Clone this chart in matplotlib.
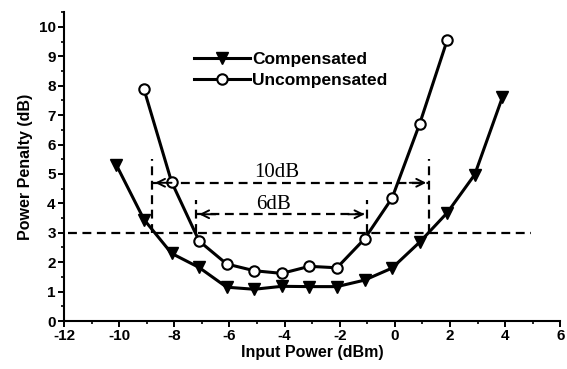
import matplotlib
matplotlib.use("Agg")
import matplotlib.pyplot as plt
from matplotlib.ticker import MultipleLocator

# Data
comp_x = [-10.1, -9.1, -8.1, -7.1, -6.1, -5.1, -4.1, -3.1, -2.1, -1.1, -0.1, 0.9, 1.9, 2.9, 3.9]
comp_y = [5.3, 3.45, 2.3, 1.82, 1.15, 1.08, 1.18, 1.17, 1.17, 1.39, 1.8, 2.68, 3.68, 4.98, 7.6]
unc_x = [-9.1, -8.1, -7.1, -6.1, -5.1, -4.1, -3.1, -2.1, -1.1, -0.1, 0.9, 1.9]
unc_y = [7.88, 4.73, 2.72, 1.94, 1.71, 1.62, 1.86, 1.81, 2.79, 4.18, 6.7, 9.55]

threshold = 3.0
range10 = (-8.8, 1.24)
range6 = (-7.2, -1.0)

plt.rcParams['font.family'] = ['Liberation Sans', 'DejaVu Sans']
plt.rcParams['axes.unicode_minus'] = False
fig = plt.figure(figsize=(5.67, 3.69), dpi=100)
ax = fig.add_axes([0.113, 0.130, 0.875, 0.837])

ax.plot(comp_x, comp_y, '-', color='black', lw=2.2, marker='v', ms=8.5,
        mfc='black', mec='black', label='Compensated', zorder=3)
ax.plot(unc_x, unc_y, '-', color='black', lw=2.2, marker='o', ms=7.5,
        mfc='white', mec='black', mew=1.5, label='Uncompensated', zorder=3)

dash = (0, (4, 2.5))
ax.plot([-11.85, 4.95], [threshold, threshold], color='black', lw=1.6, linestyle=dash, zorder=2)

# 10 dB window
for xv in range10:
    ax.plot([xv, xv], [threshold, 5.5], color='black', lw=1.6, linestyle=dash, zorder=2)
y10 = 4.7
ax.plot([range10[0], range10[1]], [y10, y10], color='black', lw=1.6, linestyle=dash, zorder=2)
ax.annotate('', xy=(range10[0], y10), xytext=(range10[0] + 0.8, y10),
            arrowprops=dict(arrowstyle='->', lw=1.4, color='black', mutation_scale=14))
ax.annotate('', xy=(range10[1], y10), xytext=(range10[1] - 0.8, y10),
            arrowprops=dict(arrowstyle='->', lw=1.4, color='black', mutation_scale=14))
ax.text(-4.3, y10 + 0.02, '10dB', family='Liberation Serif', fontsize=15,
        ha='center', va='bottom')

# 6 dB window
for xv in range6:
    ax.plot([xv, xv], [threshold, 4.1], color='black', lw=1.6, linestyle=dash, zorder=2)
y6 = 3.63
ax.plot([range6[0], range6[1]], [y6, y6], color='black', lw=1.6, linestyle=dash, zorder=2)
ax.annotate('', xy=(range6[0], y6), xytext=(range6[0] + 0.8, y6),
            arrowprops=dict(arrowstyle='->', lw=1.4, color='black', mutation_scale=14))
ax.annotate('', xy=(range6[1], y6), xytext=(range6[1] - 0.8, y6),
            arrowprops=dict(arrowstyle='->', lw=1.4, color='black', mutation_scale=14))
ax.text(-4.4, y6 + 0.02, '6dB', family='Liberation Serif', fontsize=15,
        ha='center', va='bottom')

ax.set_xlim(-12, 6)
ax.set_ylim(0, 10.5)
ax.xaxis.set_major_locator(MultipleLocator(2))
ax.xaxis.set_minor_locator(MultipleLocator(1))
ax.yaxis.set_major_locator(MultipleLocator(1))
ax.yaxis.set_minor_locator(MultipleLocator(0.5))
ax.set_yticks(range(0, 11))
for s in ['top', 'right']:
    ax.spines[s].set_visible(False)
for s in ['left', 'bottom']:
    ax.spines[s].set_linewidth(1.5)
ax.tick_params(which='major', direction='out', length=4, width=1.4, labelsize=11, pad=2)
ax.tick_params(which='minor', direction='out', length=2.5, width=1.2)
for lab in ax.get_xticklabels() + ax.get_yticklabels():
    lab.set_fontweight('bold')
ax.set_xlabel('Input Power (dBm)', fontsize=11.5, fontweight='bold', labelpad=1)
ax.set_ylabel('Power Penalty (dB)', fontsize=11.5, fontweight='bold', labelpad=4)

leg = ax.legend(loc='upper left', bbox_to_anchor=(0.262, 0.87), frameon=False,
                handlelength=3.2, handletextpad=0.15, labelspacing=0.3,
                borderpad=0, borderaxespad=0,
                prop={'weight': 'bold', 'size': 12.5})

fig.savefig('out.png', dpi=100)
